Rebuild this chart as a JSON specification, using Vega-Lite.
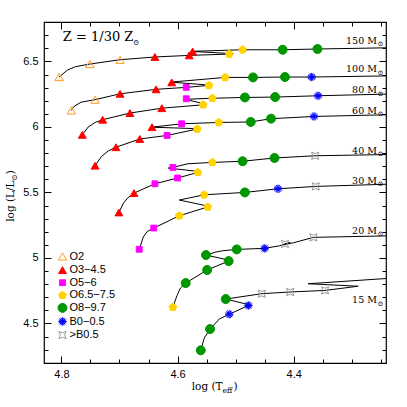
{
  "$schema": "https://vega.github.io/schema/vega-lite/v6.json",
  "width": 342,
  "height": 341,
  "autosize": {"type": "none"},
  "padding": {"left": 44, "top": 22, "right": 21, "bottom": 44},
  "background": "white",
  "config": {
    "view": {"stroke": "black", "strokeWidth": 1.2},
    "legend": {"symbolStrokeWidth": 1, "labelFont": "Liberation Sans", "labelFontSize": 11, "labelColor": "black", "rowPadding": 0.6, "labelOffset": 1.5, "padding": 0}
  },
  "datasets": {
    "tracks": [
      {"m":150,"i":1,"x":4.804,"y":6.381},{"m":150,"i":2,"x":4.790,"y":6.433},{"m":150,"i":3,"x":4.776,"y":6.460},{"m":150,"i":4,"x":4.751,"y":6.480},{"m":150,"i":5,"x":4.699,"y":6.513},{"m":150,"i":6,"x":4.639,"y":6.534},{"m":150,"i":7,"x":4.580,"y":6.546},{"m":150,"i":8,"x":4.511,"y":6.556},{"m":150,"i":9,"x":4.504,"y":6.559},{"m":150,"i":10,"x":4.577,"y":6.577},{"m":150,"i":11,"x":4.488,"y":6.589},{"m":150,"i":12,"x":4.419,"y":6.589},{"m":150,"i":13,"x":4.359,"y":6.595},{"m":150,"i":14,"x":4.2,"y":6.607},
      {"m":100,"i":1,"x":4.783,"y":6.126},{"m":100,"i":2,"x":4.778,"y":6.158},{"m":100,"i":3,"x":4.766,"y":6.189},{"m":100,"i":4,"x":4.742,"y":6.208},{"m":100,"i":5,"x":4.699,"y":6.253},{"m":100,"i":6,"x":4.637,"y":6.287},{"m":100,"i":7,"x":4.585,"y":6.302},{"m":100,"i":8,"x":4.546,"y":6.317},{"m":100,"i":9,"x":4.541,"y":6.318},{"m":100,"i":10,"x":4.612,"y":6.342},{"m":100,"i":11,"x":4.518,"y":6.378},{"m":100,"i":12,"x":4.470,"y":6.378},{"m":100,"i":13,"x":4.415,"y":6.381},{"m":100,"i":14,"x":4.369,"y":6.381},{"m":100,"i":15,"x":4.2,"y":6.392},
      {"m":80,"i":1,"x":4.764,"y":5.940},{"m":80,"i":2,"x":4.754,"y":5.999},{"m":80,"i":3,"x":4.742,"y":6.034},{"m":80,"i":4,"x":4.729,"y":6.055},{"m":80,"i":5,"x":4.682,"y":6.106},{"m":80,"i":6,"x":4.627,"y":6.143},{"m":80,"i":7,"x":4.556,"y":6.169},{"m":80,"i":8,"x":4.551,"y":6.173},{"m":80,"i":9,"x":4.587,"y":6.211},{"m":80,"i":10,"x":4.540,"y":6.219},{"m":80,"i":11,"x":4.484,"y":6.225},{"m":80,"i":12,"x":4.432,"y":6.228},{"m":80,"i":13,"x":4.358,"y":6.238},{"m":80,"i":14,"x":4.2,"y":6.255},
      {"m":60,"i":1,"x":4.742,"y":5.704},{"m":60,"i":2,"x":4.731,"y":5.775},{"m":60,"i":3,"x":4.719,"y":5.818},{"m":60,"i":4,"x":4.706,"y":5.845},{"m":60,"i":5,"x":4.665,"y":5.908},{"m":60,"i":6,"x":4.618,"y":5.935},{"m":60,"i":7,"x":4.566,"y":5.984},{"m":60,"i":8,"x":4.561,"y":5.986},{"m":60,"i":9,"x":4.644,"y":5.998},{"m":60,"i":10,"x":4.593,"y":6.024},{"m":60,"i":11,"x":4.529,"y":6.034},{"m":60,"i":12,"x":4.474,"y":6.038},{"m":60,"i":13,"x":4.439,"y":6.063},{"m":60,"i":14,"x":4.365,"y":6.080},{"m":60,"i":15,"x":4.2,"y":6.097},
      {"m":40,"i":1,"x":4.701,"y":5.347},{"m":40,"i":2,"x":4.693,"y":5.419},{"m":40,"i":3,"x":4.686,"y":5.457},{"m":40,"i":4,"x":4.675,"y":5.495},{"m":40,"i":5,"x":4.639,"y":5.566},{"m":40,"i":6,"x":4.600,"y":5.610},{"m":40,"i":7,"x":4.565,"y":5.653},{"m":40,"i":8,"x":4.560,"y":5.658},{"m":40,"i":9,"x":4.616,"y":5.686},{"m":40,"i":10,"x":4.608,"y":5.691},{"m":40,"i":11,"x":4.582,"y":5.719},{"m":40,"i":12,"x":4.540,"y":5.729},{"m":40,"i":13,"x":4.488,"y":5.738},{"m":40,"i":14,"x":4.433,"y":5.763},{"m":40,"i":15,"x":4.363,"y":5.780},{"m":40,"i":16,"x":4.2,"y":5.792},
      {"m":30,"i":1,"x":4.666,"y":5.066},{"m":30,"i":2,"x":4.659,"y":5.160},{"m":30,"i":3,"x":4.652,"y":5.202},{"m":30,"i":4,"x":4.641,"y":5.228},{"m":30,"i":5,"x":4.597,"y":5.322},{"m":30,"i":6,"x":4.548,"y":5.389},{"m":30,"i":7,"x":4.544,"y":5.392},{"m":30,"i":8,"x":4.597,"y":5.442},{"m":30,"i":9,"x":4.554,"y":5.482},{"m":30,"i":10,"x":4.484,"y":5.500},{"m":30,"i":11,"x":4.427,"y":5.528},{"m":30,"i":12,"x":4.362,"y":5.546},{"m":30,"i":13,"x":4.2,"y":5.568},
      {"m":20,"i":1,"x":4.608,"y":4.624},{"m":20,"i":2,"x":4.601,"y":4.712},{"m":20,"i":3,"x":4.595,"y":4.770},{"m":20,"i":4,"x":4.586,"y":4.808},{"m":20,"i":5,"x":4.549,"y":4.908},{"m":20,"i":6,"x":4.512,"y":4.976},{"m":20,"i":7,"x":4.508,"y":4.980},{"m":20,"i":8,"x":4.551,"y":5.022},{"m":20,"i":9,"x":4.534,"y":5.045},{"m":20,"i":10,"x":4.522,"y":5.055},{"m":20,"i":11,"x":4.498,"y":5.065},{"m":20,"i":12,"x":4.450,"y":5.073},{"m":20,"i":13,"x":4.424,"y":5.093},{"m":20,"i":14,"x":4.406,"y":5.118},{"m":20,"i":15,"x":4.420,"y":5.099},{"m":20,"i":16,"x":4.400,"y":5.116},{"m":20,"i":17,"x":4.366,"y":5.157},{"m":20,"i":18,"x":4.2,"y":5.172},
      {"m":15,"i":1,"x":4.560,"y":4.295},{"m":15,"i":2,"x":4.554,"y":4.389},{"m":15,"i":3,"x":4.544,"y":4.457},{"m":15,"i":4,"x":4.528,"y":4.534},{"m":15,"i":5,"x":4.511,"y":4.570},{"m":15,"i":6,"x":4.478,"y":4.637},{"m":15,"i":7,"x":4.475,"y":4.641},{"m":15,"i":8,"x":4.517,"y":4.686},{"m":15,"i":9,"x":4.455,"y":4.727},{"m":15,"i":10,"x":4.406,"y":4.740},{"m":15,"i":11,"x":4.346,"y":4.752},{"m":15,"i":12,"x":4.289,"y":4.784},{"m":15,"i":13,"x":4.375,"y":4.803},{"m":15,"i":14,"x":4.2,"y":4.855}
    ],
    "markers": [
      {"type":"O2","x":4.804,"y":6.381},{"type":"O2","x":4.751,"y":6.480},{"type":"O2","x":4.699,"y":6.513},{"type":"O2","x":4.783,"y":6.126},{"type":"O2","x":4.742,"y":6.208},
      {"type":"O3−4.5","x":4.639,"y":6.534},{"type":"O3−4.5","x":4.580,"y":6.546},{"type":"O3−4.5","x":4.574,"y":6.576},{"type":"O3−4.5","x":4.699,"y":6.253},{"type":"O3−4.5","x":4.637,"y":6.287},{"type":"O3−4.5","x":4.610,"y":6.340},{"type":"O3−4.5","x":4.764,"y":5.940},{"type":"O3−4.5","x":4.729,"y":6.055},{"type":"O3−4.5","x":4.682,"y":6.106},{"type":"O3−4.5","x":4.627,"y":6.143},{"type":"O3−4.5","x":4.742,"y":5.704},{"type":"O3−4.5","x":4.706,"y":5.845},{"type":"O3−4.5","x":4.665,"y":5.908},{"type":"O3−4.5","x":4.644,"y":5.998},{"type":"O3−4.5","x":4.701,"y":5.347},{"type":"O3−4.5","x":4.675,"y":5.495},
      {"type":"O5−6","x":4.585,"y":6.302},{"type":"O5−6","x":4.585,"y":6.215},{"type":"O5−6","x":4.618,"y":5.935},{"type":"O5−6","x":4.593,"y":6.024},{"type":"O5−6","x":4.639,"y":5.566},{"type":"O5−6","x":4.600,"y":5.610},{"type":"O5−6","x":4.608,"y":5.691},{"type":"O5−6","x":4.666,"y":5.066},{"type":"O5−6","x":4.641,"y":5.228},
      {"type":"O6.5−7.5","x":4.511,"y":6.556},{"type":"O6.5−7.5","x":4.488,"y":6.589},{"type":"O6.5−7.5","x":4.546,"y":6.317},{"type":"O6.5−7.5","x":4.518,"y":6.378},{"type":"O6.5−7.5","x":4.556,"y":6.169},{"type":"O6.5−7.5","x":4.540,"y":6.219},{"type":"O6.5−7.5","x":4.566,"y":5.984},{"type":"O6.5−7.5","x":4.529,"y":6.034},{"type":"O6.5−7.5","x":4.565,"y":5.653},{"type":"O6.5−7.5","x":4.540,"y":5.729},{"type":"O6.5−7.5","x":4.597,"y":5.322},{"type":"O6.5−7.5","x":4.548,"y":5.389},{"type":"O6.5−7.5","x":4.554,"y":5.482},{"type":"O6.5−7.5","x":4.608,"y":4.624},
      {"type":"O8−9.7","x":4.419,"y":6.589},{"type":"O8−9.7","x":4.359,"y":6.595},{"type":"O8−9.7","x":4.470,"y":6.378},{"type":"O8−9.7","x":4.415,"y":6.381},{"type":"O8−9.7","x":4.484,"y":6.225},{"type":"O8−9.7","x":4.432,"y":6.228},{"type":"O8−9.7","x":4.474,"y":6.038},{"type":"O8−9.7","x":4.439,"y":6.063},{"type":"O8−9.7","x":4.488,"y":5.738},{"type":"O8−9.7","x":4.433,"y":5.763},{"type":"O8−9.7","x":4.484,"y":5.500},{"type":"O8−9.7","x":4.586,"y":4.808},{"type":"O8−9.7","x":4.549,"y":4.908},{"type":"O8−9.7","x":4.512,"y":4.976},{"type":"O8−9.7","x":4.551,"y":5.022},{"type":"O8−9.7","x":4.498,"y":5.065},{"type":"O8−9.7","x":4.560,"y":4.295},{"type":"O8−9.7","x":4.544,"y":4.457},{"type":"O8−9.7","x":4.517,"y":4.686},
      {"type":"B0−0.5","x":4.369,"y":6.381},{"type":"B0−0.5","x":4.358,"y":6.238},{"type":"B0−0.5","x":4.365,"y":6.080},{"type":"B0−0.5","x":4.427,"y":5.528},{"type":"B0−0.5","x":4.450,"y":5.073},{"type":"B0−0.5","x":4.511,"y":4.570},{"type":"B0−0.5","x":4.478,"y":4.637},
      {"type":">B0.5","x":4.363,"y":5.780},{"type":">B0.5","x":4.362,"y":5.546},{"type":">B0.5","x":4.415,"y":5.107},{"type":">B0.5","x":4.366,"y":5.157},{"type":">B0.5","x":4.455,"y":4.727},{"type":">B0.5","x":4.406,"y":4.740},{"type":">B0.5","x":4.346,"y":4.752}
    ],
    "masses": [
      {"label":"150 M","x":4.2566,"y":6.635},{"label":"100 M","x":4.2566,"y":6.416},{"label":"80 M","x":4.2566,"y":6.259},{"label":"60 M","x":4.2566,"y":6.101},
      {"label":"40 M","x":4.2566,"y":5.795},{"label":"30 M","x":4.2566,"y":5.566},{"label":"20 M","x":4.2566,"y":5.185},{"label":"15 M","x":4.2566,"y":4.654}
    ],
    "notes": [
      {"t":"Z = 1/30 Z","x":4.7976,"y":6.6527,"part":"big"},
      {"t":"⊙","x":4.6766,"y":6.6275,"part":"sub"},
      {"t":"log (T","x":4.5756,"y":3.994,"part":"title"},
      {"t":"eff","x":4.5225,"y":3.971,"part":"sub"},
      {"t":")","x":4.5036,"y":3.994,"part":"title"},
      {"t":"log (L/L","x":4.8823,"y":5.2763,"part":"ytitle"},
      {"t":"⊙","x":4.8771,"y":5.5893,"part":"ysub"},
      {"t":")","x":4.8823,"y":5.639,"part":"ytitle"}
    ]
  },
  "resolve": {"axis": {"x": "independent", "y": "independent"}},
  "layer": [
    {
      "data": {"name": "tracks"},
      "mark": {"type": "line", "clip": true, "color": "black", "strokeWidth": 1},
      "encoding": {
        "x": {"field": "x", "type": "quantitative", "scale": {"domain": [4.241, 4.83], "reverse": true, "zero": false, "nice": false},
          "axis": {"orient": "bottom", "values": [4.25,4.3,4.35,4.4,4.45,4.5,4.55,4.6,4.65,4.7,4.75,4.8], "title": null, "grid": false, "domain": false, "tickColor": "black", "tickWidth": 1,
            "tickSize": {"condition": {"test": "abs(datum.value*5 - round(datum.value*5)) < 0.001", "value": -7}, "value": -4},
            "labelExpr": "abs(datum.value*5 - round(datum.value*5)) < 0.001 ? format(datum.value, '.1f') : ''",
            "labelPadding": 12, "labelFlush": false, "labelOverlap": false, "labelFont": "Liberation Sans", "labelFontSize": 11, "labelColor": "black"}},
        "y": {"field": "y", "type": "quantitative", "scale": {"domain": [4.198, 6.801], "zero": false, "nice": false},
          "axis": {"orient": "left", "values": [4.2,4.3,4.4,4.5,4.6,4.7,4.8,4.9,5,5.1,5.2,5.3,5.4,5.5,5.6,5.7,5.8,5.9,6,6.1,6.2,6.3,6.4,6.5,6.6,6.7,6.8], "title": null, "grid": false, "domain": false, "tickColor": "black", "tickWidth": 1,
            "tickSize": {"condition": {"test": "abs(datum.value*2 - round(datum.value*2)) < 0.001", "value": -7}, "value": -4},
            "labelExpr": "abs(datum.value*2 - round(datum.value*2)) < 0.001 ? format(datum.value, '~g') : ''",
            "labelPadding": 13, "labelFlush": false, "labelOverlap": false, "labelFont": "Liberation Sans", "labelFontSize": 11, "labelColor": "black"}},
        "detail": {"field": "m", "type": "nominal"},
        "order": {"field": "i", "type": "quantitative"}
      }
    },
    {
      "data": {"name": "markers"},
      "mark": {"type": "point", "opacity": 1, "strokeWidth": 1, "clip": true},
      "encoding": {
        "x": {"field": "x", "type": "quantitative", "scale": {"domain": [4.241, 4.83], "reverse": true, "zero": false, "nice": false},
          "axis": {"orient": "top", "values": [4.25,4.3,4.35,4.4,4.45,4.5,4.55,4.6,4.65,4.7,4.75,4.8], "title": null, "grid": false, "domain": false, "labels": false, "tickColor": "black", "tickWidth": 1,
            "tickSize": {"condition": {"test": "abs(datum.value*5 - round(datum.value*5)) < 0.001", "value": -7}, "value": -4}}},
        "y": {"field": "y", "type": "quantitative", "scale": {"domain": [4.198, 6.801], "zero": false, "nice": false},
          "axis": {"orient": "right", "values": [4.2,4.3,4.4,4.5,4.6,4.7,4.8,4.9,5,5.1,5.2,5.3,5.4,5.5,5.6,5.7,5.8,5.9,6,6.1,6.2,6.3,6.4,6.5,6.6,6.7,6.8], "title": null, "grid": false, "domain": false, "labels": false, "tickColor": "black", "tickWidth": 1,
            "tickSize": {"condition": {"test": "abs(datum.value*2 - round(datum.value*2)) < 0.001", "value": -7}, "value": -4}}},
        "shape": {"field": "type", "type": "nominal",
          "scale": {"domain": ["O2","O3−4.5","O5−6","O6.5−7.5","O8−9.7","B0−0.5",">B0.5"],
            "range": ["triangle-up","triangle-up","square","M0,-1L0.951,-0.309L0.588,0.809L-0.588,0.809L-0.951,-0.309Z","circle",
              "M-1,0L1,0M0,-1L0,1M-0.707,-0.707L0.707,0.707M-0.707,0.707L0.707,-0.707M-0.924,-0.383L0.924,0.383M-0.383,-0.924L0.383,0.924M-0.924,0.383L0.924,-0.383M-0.383,0.924L0.383,-0.924M0.3,0A0.3,0.3 0 1,1 -0.3,0A0.3,0.3 0 1,1 0.3,0Z",
              "M-1,-1L0,-0.6L1,-1L0.6,0L1,1L0,0.6L-1,1L-0.6,0Z"]},
          "legend": {"title": null, "orient": "none", "legendX": 13, "legendY": 229}},
        "fill": {"field": "type", "type": "nominal",
          "scale": {"domain": ["O2","O3−4.5","O5−6","O6.5−7.5","O8−9.7","B0−0.5",">B0.5"],
            "range": ["transparent","#ff0000","#ff00ff","#ffd200","#009600","#0000ff","transparent"]},
          "legend": {"title": null, "orient": "none", "legendX": 13, "legendY": 229}},
        "stroke": {"field": "type", "type": "nominal",
          "scale": {"domain": ["O2","O3−4.5","O5−6","O6.5−7.5","O8−9.7","B0−0.5",">B0.5"],
            "range": ["#ff9a1f","#ff0000","#ff00ff","#ffd200","#009600","#0000ff","#999999"]},
          "legend": {"title": null, "orient": "none", "legendX": 13, "legendY": 229}},
        "size": {"field": "type", "type": "nominal",
          "scale": {"type": "ordinal", "domain": ["O2","O3−4.5","O5−6","O6.5−7.5","O8−9.7","B0−0.5",">B0.5"],
            "range": [70, 62, 34, 65, 80, 69, 53]},
          "legend": {"title": null, "orient": "none", "legendX": 13, "legendY": 229}}
      }
    },
    {
      "data": {"name": "masses"},
      "mark": {"type": "text", "align": "right", "baseline": "alphabetic", "font": "DejaVu Serif", "fontSize": 9.5, "color": "black"},
      "encoding": {
        "x": {"field": "x", "type": "quantitative", "scale": {"domain": [4.241, 4.83], "reverse": true, "zero": false, "nice": false}, "axis": null},
        "y": {"field": "y", "type": "quantitative", "scale": {"domain": [4.198, 6.801], "zero": false, "nice": false}, "axis": null},
        "text": {"field": "label"}
      }
    },
    {
      "data": {"name": "masses"},
      "mark": {"type": "text", "align": "left", "baseline": "alphabetic", "font": "DejaVu Serif", "fontSize": 7, "dx": 0.5, "dy": 2.5, "color": "black", "text": "⊙"},
      "encoding": {
        "x": {"field": "x", "type": "quantitative", "scale": {"domain": [4.241, 4.83], "reverse": true, "zero": false, "nice": false}, "axis": null},
        "y": {"field": "y", "type": "quantitative", "scale": {"domain": [4.198, 6.801], "zero": false, "nice": false}, "axis": null}
      }
    },
    {
      "data": {"name": "notes"},
      "transform": [{"filter": "datum.part == 'big'"}],
      "mark": {"type": "text", "align": "left", "baseline": "alphabetic", "font": "DejaVu Serif", "fontSize": 13, "color": "black"},
      "encoding": {
        "x": {"field": "x", "type": "quantitative", "scale": {"domain": [4.241, 4.83], "reverse": true, "zero": false, "nice": false}, "axis": null},
        "y": {"field": "y", "type": "quantitative", "scale": {"domain": [4.198, 6.801], "zero": false, "nice": false}, "axis": null},
        "text": {"field": "t"}
      }
    },
    {
      "data": {"name": "notes"},
      "transform": [{"filter": "datum.part == 'sub'"}],
      "mark": {"type": "text", "align": "left", "baseline": "alphabetic", "font": "DejaVu Serif", "fontSize": 7.5, "color": "black"},
      "encoding": {
        "x": {"field": "x", "type": "quantitative", "scale": {"domain": [4.241, 4.83], "reverse": true, "zero": false, "nice": false}, "axis": null},
        "y": {"field": "y", "type": "quantitative", "scale": {"domain": [4.198, 6.801], "zero": false, "nice": false}, "axis": null},
        "text": {"field": "t"}
      }
    },
    {
      "data": {"name": "notes"},
      "transform": [{"filter": "datum.part == 'title'"}],
      "mark": {"type": "text", "align": "left", "baseline": "alphabetic", "font": "DejaVu Serif", "fontSize": 10.5, "color": "black"},
      "encoding": {
        "x": {"field": "x", "type": "quantitative", "scale": {"domain": [4.241, 4.83], "reverse": true, "zero": false, "nice": false}, "axis": null},
        "y": {"field": "y", "type": "quantitative", "scale": {"domain": [4.198, 6.801], "zero": false, "nice": false}, "axis": null},
        "text": {"field": "t"}
      }
    },
    {
      "data": {"name": "notes"},
      "transform": [{"filter": "datum.part == 'ytitle'"}],
      "mark": {"type": "text", "align": "left", "baseline": "alphabetic", "angle": 270, "font": "DejaVu Serif", "fontSize": 10.5, "color": "black"},
      "encoding": {
        "x": {"field": "x", "type": "quantitative", "scale": {"domain": [4.241, 4.83], "reverse": true, "zero": false, "nice": false}, "axis": null},
        "y": {"field": "y", "type": "quantitative", "scale": {"domain": [4.198, 6.801], "zero": false, "nice": false}, "axis": null},
        "text": {"field": "t"}
      }
    },
    {
      "data": {"name": "notes"},
      "transform": [{"filter": "datum.part == 'ysub'"}],
      "mark": {"type": "text", "align": "left", "baseline": "alphabetic", "angle": 270, "font": "DejaVu Serif", "fontSize": 7.5, "color": "black"},
      "encoding": {
        "x": {"field": "x", "type": "quantitative", "scale": {"domain": [4.241, 4.83], "reverse": true, "zero": false, "nice": false}, "axis": null},
        "y": {"field": "y", "type": "quantitative", "scale": {"domain": [4.198, 6.801], "zero": false, "nice": false}, "axis": null},
        "text": {"field": "t"}
      }
    }
  ]
}
